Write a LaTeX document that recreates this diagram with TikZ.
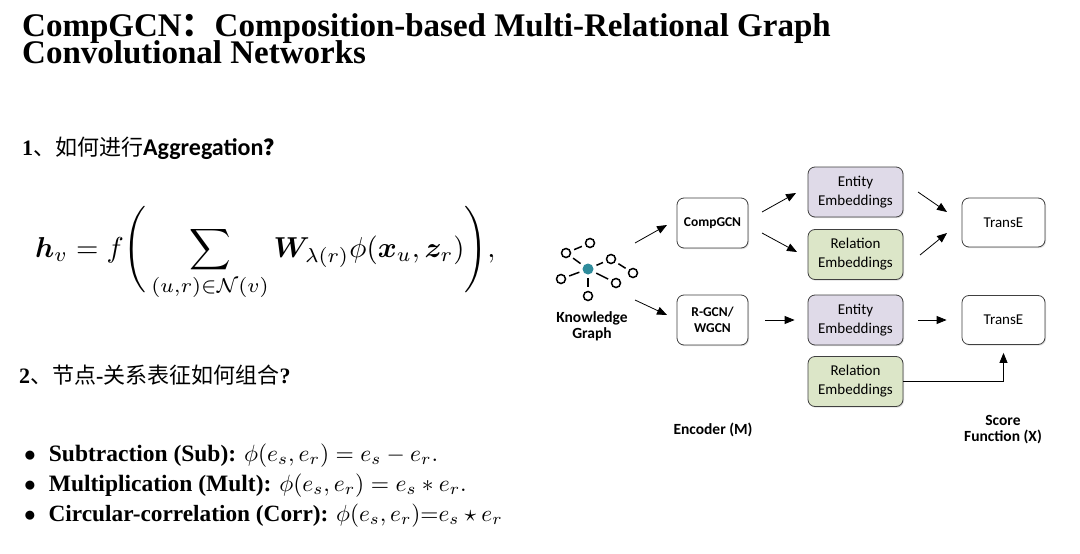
\documentclass[tikz,border=0pt]{standalone}
\usepackage{amsmath,amssymb,bm}
\usepackage{graphicx}
\usepackage[no-math]{fontspec}
\setmainfont{Liberation Serif}
\newfontfamily\calib{Carlito}
\newfontfamily\cjk{Noto Sans CJK SC}
\usetikzlibrary{arrows.meta,shadows}
\definecolor{lav}{HTML}{DFDAE8}
\definecolor{lgreen}{HTML}{DCE6C8}
\definecolor{teal2}{HTML}{2F8C9C}
\newcommand\mytitlefont{\bfseries\fontsize{33}{27}\selectfont\lineskiplimit=-50pt\relax}
\tikzset{
  box/.style={draw=black!75, rounded corners=7pt, line width=0.8pt, fill=white, align=center, inner sep=0pt,
    drop shadow={shadow xshift=1pt,shadow yshift=-1.2pt,opacity=0.25}},
  encbox/.style={box, minimum width=71pt, minimum height=50pt, font=\calib\bfseries\fontsize{13.5}{15.5}\selectfont},
  embbox/.style={box, minimum width=95pt, minimum height=50pt, font=\calib\fontsize{15}{19}\selectfont},
  scorebox/.style={box, minimum width=83pt, minimum height=49pt, font=\calib\fontsize{15}{19}\selectfont},
  arr/.style={-{Triangle[length=10pt,width=8pt]}, line width=0.8pt, black},
  kgc/.style={circle, draw=black, line width=1.5pt, fill=white, minimum size=9pt, inner sep=0pt},
  kgcenter/.style={circle, fill=teal2, minimum size=11pt, inner sep=0pt},
  kge/.style={line width=1.5pt, black, shorten <=3.5pt, shorten >=3.5pt},
  lbl/.style={font=\calib\bfseries\fontsize{15.5}{16}\selectfont, align=center, inner sep=0pt},
}
\begin{document}
\begin{tikzpicture}[x=1pt,y=-1pt]
\useasboundingbox (0,0) rectangle (1080,554);
\fill[white] (0,0) rectangle (1080,554);

% Title
\node[anchor=base west, inner sep=0pt, align=left, font=\mytitlefont] (t1) at (22,63)
  {CompGCN{\cjk ：}Composition-based Multi-Relational Graph\\Convolutional Networks};

% Heading 1
\node[anchor=base west, inner sep=0pt, font=\fontsize{22}{26}\selectfont] (h1) at (22,155)
  {\textbf{1}{\cjk 、如何进行}{\calib\bfseries\fontsize{24}{26}\selectfont Aggregation}{\cjk\bfseries ？}};

% Formula
\node[anchor=base west, inner sep=0pt] (f1) at (35,257)
  {\scalebox{2.88}{$\displaystyle \bm{h}_v = f\Biggl(\,\sum_{(u,r)\in\mathcal{N}(v)} \bm{W}_{\lambda(r)}\phi(\bm{x}_u,\bm{z}_r)\Biggr),$}};

% Heading 2
\node[anchor=base west, inner sep=0pt, font=\fontsize{22}{26}\selectfont] (h2) at (19,383)
  {\textbf{2}{\cjk 、节点}\textbf{-}{\cjk 关系表征如何组合}\textbf{?}};

% Bullets
\node[anchor=base west, inner sep=0pt] (b1) at (24,461)
  {\scalebox{2.35}{$\bullet$\hspace{5.5pt}\textbf{Subtraction (Sub):} $\phi(e_s,e_r)=e_s-e_r.$}};
\node[anchor=base west, inner sep=0pt] (b2) at (24,491)
  {\scalebox{2.35}{$\bullet$\hspace{5.5pt}\textbf{Multiplication (Mult):} $\phi(e_s,e_r)=e_s\ast e_r.$}};
\node[anchor=base west, inner sep=0pt] (b3) at (24,521)
  {\scalebox{2.33}{$\bullet$\hspace{5.5pt}\textbf{Circular-correlation (Corr):} $\phi(e_s,e_r){=}e_s\star e_r$}};

% Knowledge graph
\node[kgcenter] (c) at (588,269) {};
\node[kgc] (n1) at (590,243) {};
\node[kgc] (n2) at (566,253) {};
\node[kgc] (n3) at (611,259) {};
\node[kgc] (n4) at (633,273) {};
\node[kgc] (n5) at (561,279) {};
\node[kgc] (n6) at (616,283) {};
\node[kgc] (n7) at (588,296) {};
\draw[kge] (c) -- (n2);
\draw[kge] (n2) -- (n1);
\draw[kge] (c) -- (n3);
\draw[kge] (n3) -- (n4);
\draw[kge] (c) -- (n5);
\draw[kge] (c) -- (n6);
\draw[kge] (c) -- (n7);
\node[lbl] (kg) at (592,326) {Knowledge\\Graph};

% Boxes
\node[encbox] (comp) at (712.5,223) {CompGCN};
\node[encbox] (rg) at (712.5,320) {R-GCN/\\WGCN};
\node[embbox, fill=lav] (ee1) at (855.5,192) {Entity\\Embeddings};
\node[embbox, fill=lgreen] (re1) at (855.5,254.5) {Relation\\Embeddings};
\node[embbox, fill=lav] (ee2) at (855.5,320) {Entity\\Embeddings};
\node[embbox, fill=lgreen] (re2) at (855.5,381.5) {Relation\\Embeddings};
\node[scorebox] (te1) at (1003.5,222.5) {TransE};
\node[scorebox] (te2) at (1003.5,320) {TransE};

% Labels
\node[lbl] (enc) at (713,430) {Encoder (M)};
\node[lbl] (score) at (1003,430) {Score\\Function (X)};

% Arrow endpoints
\coordinate (a1s) at (635,243); \coordinate (a1e) at (667,225);
\coordinate (a2s) at (635,300); \coordinate (a2e) at (667,315);
\coordinate (a3s) at (762,212); \coordinate (a3e) at (796,193);
\coordinate (a4s) at (762,233); \coordinate (a4e) at (797,252);
\coordinate (a5s) at (918,192); \coordinate (a5e) at (947,212);
\coordinate (a6s) at (920,255); \coordinate (a6e) at (947,233);
\draw[arr] (a1s) -- (a1e);
\draw[arr] (a2s) -- (a2e);
\draw[arr] (a3s) -- (a3e);
\draw[arr] (a4s) -- (a4e);
\draw[arr] (a5s) -- (a5e);
\draw[arr] (a6s) -- (a6e);
\draw[arr, shorten <=17pt, shorten >=13pt] (rg.east) -- (ee2.west);
\draw[arr, shorten <=15pt, shorten >=15pt] (ee2.east) -- (te2.west);
\draw[arr, shorten >=8pt] (re2.east) -| (te2.south);
\end{tikzpicture}
\end{document}
